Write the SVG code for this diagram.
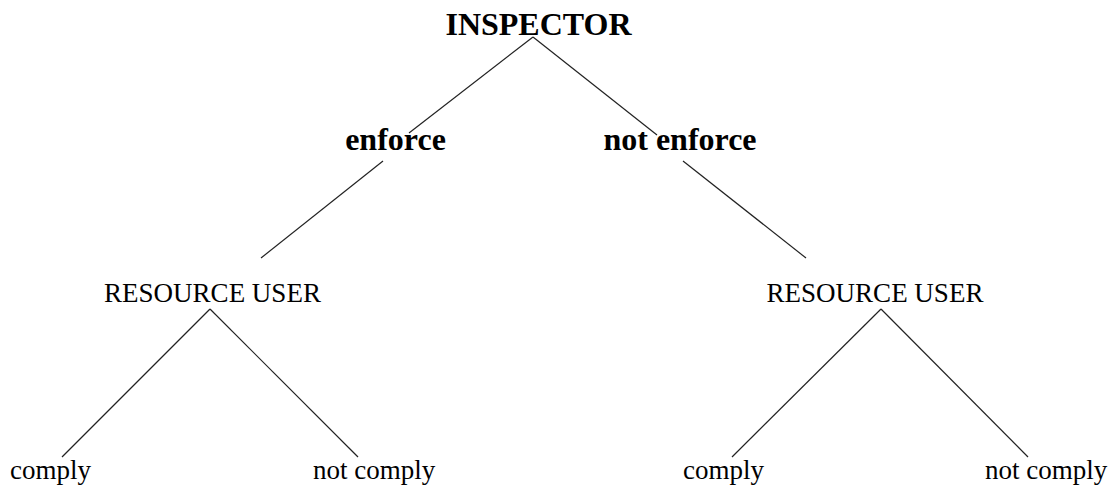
<svg xmlns="http://www.w3.org/2000/svg" width="1117" height="489" viewBox="0 0 1117 489">
<style>
.b{font-family:"Liberation Serif","Times New Roman",serif;font-weight:bold;font-size:32px;fill:#000}
.r{font-family:"Liberation Serif","Times New Roman",serif;font-size:27px;fill:#000}
.e{stroke:#222;stroke-width:1.2;fill:none}
</style>
<rect width="1117" height="489" fill="#fff"/>
<g id="connectors">
<line class="e" x1="533" y1="37" x2="409" y2="133"/>
<line class="e" x1="533" y1="37" x2="657" y2="135"/>
<line class="e" x1="383" y1="161" x2="261" y2="258"/>
<line class="e" x1="683" y1="161" x2="806" y2="258"/>
<line class="e" x1="210" y1="309" x2="62" y2="457"/>
<line class="e" x1="210" y1="309" x2="358" y2="457"/>
<line class="e" x1="881" y1="309" x2="732" y2="457"/>
<line class="e" x1="881" y1="309" x2="1028" y2="457"/>
</g>
<g id="inspector"><text class="b" x="538.5" y="35" text-anchor="middle">INSPECTOR</text></g>
<g id="enforce"><text class="b" x="395.5" y="150" text-anchor="middle">enforce</text></g>
<g id="not-enforce"><text class="b" x="680" y="150" text-anchor="middle">not enforce</text></g>
<g id="ru-left"><text class="r" x="212.5" y="302" text-anchor="middle">RESOURCE USER</text></g>
<g id="ru-right"><text class="r" x="875" y="302" text-anchor="middle">RESOURCE USER</text></g>
<g id="comply-1"><text class="r" x="10" y="479">comply</text></g>
<g id="not-comply-1"><text class="r" x="313" y="479">not comply</text></g>
<g id="comply-2"><text class="r" x="683" y="479">comply</text></g>
<g id="not-comply-2"><text class="r" x="985" y="479">not comply</text></g>
</svg>
